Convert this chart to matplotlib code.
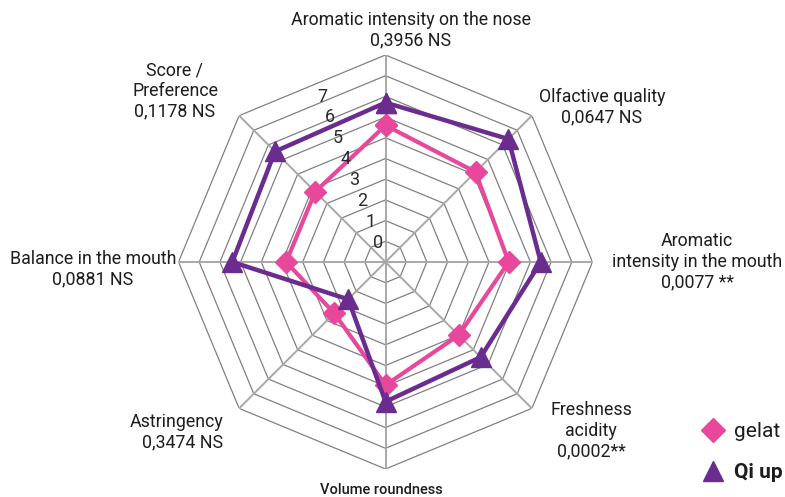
import numpy as np
import matplotlib.pyplot as plt
from matplotlib.lines import Line2D

# sensory attributes, clockwise from the top
attributes = ["Aromatic intensity on the nose", "Olfactive quality",
              "Aromatic intensity in the mouth", "Freshness acidity",
              "Volume roundness", "Astringency", "Balance in the mouth",
              "Score / Preference"]
gelat = [5.6, 5.15, 4.95, 4.0, 4.95, 2.5, 3.8, 3.8]
qi_up = [6.7, 7.4, 6.5, 5.5, 5.75, 1.55, 6.4, 6.55]
scale_labels = [0, 1, 2, 3, 4, 5, 6, 7]
rings = [0, 1, 2, 3, 4, 5, 6, 7, 8, 9]

PINK = "#E8489B"
PURPLE = "#6A2C8F"
TXT = "#1E1C1D"
W, H = 785, 497

plt.rcParams['font.family'] = ['Roboto', 'DejaVu Sans']

fig = plt.figure(figsize=(W / 100, H / 100), dpi=100)
cx, cy, rad = 385.5, 262, 207
ax = fig.add_axes([(cx - rad) / W, (H - cy - rad) / H, 2 * rad / W, 2 * rad / H],
                  projection="polar")
ax.set_theta_zero_location("N")
ax.set_theta_direction(-1)
ax.set_ylim(-1, 9)
ax.grid(False)
ax.spines["polar"].set_visible(False)
ax.set_xticks([])
ax.set_yticks([])
ax.patch.set_alpha(0)

n = len(attributes)
theta = np.arange(n) * 2 * np.pi / n
theta_c = np.append(theta, theta[0])

# octagonal grid
for r in rings:
    ax.plot(theta_c, [r] * (n + 1), color="#808080", lw=0.9, zorder=1)
for t in theta:
    ax.plot([t, t], [-1, 9], color="#A8A8A8", lw=1.4, zorder=1)

ax.plot(theta_c, gelat + gelat[:1], color=PINK, lw=3, marker="D", ms=11,
        zorder=3, clip_on=False)
ax.plot(theta_c, qi_up + qi_up[:1], color=PURPLE, lw=3.2, marker="^", ms=14,
        zorder=4, clip_on=False)

# radial scale, sitting on top of the lines like in the original
lab_t = np.deg2rad(-21)
for v in scale_labels:
    ax.text(lab_t, v * 1.08, str(v), fontsize=13, color="#2A2A2A",
            ha="center", va="center", zorder=5)

# attribute labels with p-values
def label(x, y, s, ha="center", size=12.8, **kw):
    fig.text(x / W, 1 - y / H, s, ha=ha, va="center", fontsize=size,
             color=TXT, linespacing=1.2, **kw)

label(411, 30, "Aromatic intensity on the nose\n0,3956 NS")
label(602, 107, "Olfactive quality\n0,0647 NS")
label(697, 262, "Aromatic\nintensity in the mouth\n0,0077 **")
label(591, 431, "Freshness\nacidity\n0,0002**")
label(381, 490, "Volume roundness", size=10.5, fontweight="medium")
label(223, 432, "Astringency\n0,3474 NS", ha="right", multialignment="right")
label(93, 269, "Balance in the mouth\n0,0881 NS")
label(175, 91, "Score /\nPreference\n0,1178 NS")

handles = [Line2D([], [], ls="none", marker="D", ms=12, color=PINK),
           Line2D([], [], ls="none", marker="^", ms=15, color=PURPLE)]
leg = fig.legend(handles, ["gelat", "Qi up"], loc="upper left",
                 bbox_to_anchor=(693 / W, 1 - 414 / H), frameon=False,
                 fontsize=15, labelspacing=1.05, handletextpad=0.45,
                 handlelength=1.1, borderaxespad=0)
for t in leg.get_texts():
    t.set_color(TXT)
leg.get_texts()[1].set_fontweight("bold")

fig.savefig("out.png", dpi=100)
